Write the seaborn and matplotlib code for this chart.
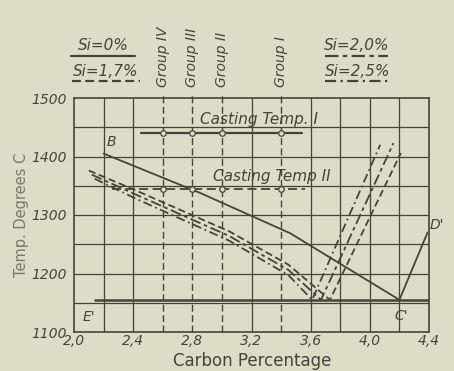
import numpy as np
import pandas as pd
import matplotlib.pyplot as plt
from matplotlib.lines import Line2D
import seaborn as sns

# -------------------------------------------------------------------
# Data (carbon %, temperature in deg C)
# -------------------------------------------------------------------

si0_c = [2.20, 2.85, 3.46, 4.20, 4.39]
si0_t = [1405, 1338, 1269, 1155, 1270]

si17_c = [2.10, 2.40, 3.05, 3.45, 3.73, 4.21]
si17_t = [1376, 1344, 1272, 1215, 1155, 1406]

si20_c = [2.12, 2.40, 3.05, 3.45, 3.67, 4.16]
si20_t = [1369, 1337, 1264, 1206, 1155, 1423]

si25_c = [2.14, 2.40, 3.05, 3.45, 3.61, 4.07]
si25_t = [1362, 1330, 1256, 1197, 1155, 1420]

series_names = ["Si=0%", "Si=1,7%", "Si=2,0%", "Si=2,5%"]

eutectic_t = 1155
eutectic_c = [2.14, 4.40]

casting1_t = 1440
casting1_c = [2.45, 3.54]
casting2_t = 1345
casting2_c = [2.26, 3.56]

group_c = [2.6, 2.8, 3.0, 3.4]
group_labels = ["Group IV", "Group III", "Group II", "Group I"]

x_ticks = [2.0, 2.4, 2.8, 3.2, 3.6, 4.0, 4.4]
x_tick_labels = ["2,0", "2,4", "2,8", "3,2", "3,6", "4,0", "4,4"]
y_ticks = [1100, 1200, 1300, 1400, 1500]

paper = "#dedbc7"
ink = "#45443b"

# -------------------------------------------------------------------
# Build long table
# -------------------------------------------------------------------

frames = []
for name, cs, ts in zip(series_names,
                        [si0_c, si17_c, si20_c, si25_c],
                        [si0_t, si17_t, si20_t, si25_t]):
    frames.append(pd.DataFrame({"C": cs, "T": ts, "Si": name}))
df = pd.concat(frames, ignore_index=True)

sns.set_style("white", {"axes.facecolor": paper, "figure.facecolor": paper})
plt.rcParams["font.family"] = ["DejaVu Sans"]

fig = plt.figure(figsize=(4.54, 3.71), dpi=100)
ax = fig.add_axes([74 / 454, 1 - 332 / 371, 355 / 454, 234 / 371])

# grid (group lines get dashed instead)
for c in np.arange(2.2, 4.4, 0.2):
    if any(abs(c - g) < 1e-6 for g in group_c):
        continue
    ax.axvline(c, color=ink, lw=0.9, zorder=1)
for t in range(1150, 1500, 50):
    ax.axhline(t, color=ink, lw=0.9, zorder=1)
for g in group_c:
    ax.plot([g, g], [1100, 1508], color=ink, lw=1.0, ls=(0, (5, 2.5)),
            clip_on=False, zorder=1)

dashes = {"Si=0%": "", "Si=1,7%": (4, 2), "Si=2,0%": (6, 2, 2, 2),
          "Si=2,5%": (5, 2, 1, 2)}
sns.lineplot(data=df, x="C", y="T", style="Si", dashes=dashes,
             estimator=None, sort=False, color=ink, lw=1.3,
             legend=False, ax=ax, zorder=3)

# eutectic line
ax.plot(eutectic_c, [eutectic_t, eutectic_t], color=ink, lw=1.8, zorder=3)

# casting temperature lines with group points
ax.plot(casting1_c, [casting1_t] * 2, color=ink, lw=1.6, zorder=3)
ax.plot(casting2_c, [casting2_t] * 2, color=ink, lw=1.3,
        ls=(0, (5, 2.5)), zorder=3)
for t in [casting1_t, casting2_t]:
    ax.scatter(group_c, [t] * len(group_c), s=16, facecolor=paper,
               edgecolor=ink, lw=0.9, zorder=4)

ax.set_xlim(2.0, 4.4)
ax.set_ylim(1100, 1500)
ax.set_xticks(x_ticks)
ax.set_xticklabels(x_tick_labels, style="italic", fontsize=10, color=ink)
ax.set_yticks(y_ticks)
ax.set_yticklabels([str(t) for t in y_ticks], style="italic", fontsize=10,
                   color=ink)
ax.tick_params(axis="y", length=0, pad=5)
ax.tick_params(axis="x", length=0, pad=1.5)
for s in ax.spines.values():
    s.set_color(ink)
    s.set_linewidth(1.2)

ax.set_xlabel("")
ax.set_ylabel("Temp. Degrees C", fontsize=10.5, color="#77776c", labelpad=2)
fig.text(252 / 454, 1 - 361 / 371, "Carbon Percentage", ha="center",
         va="center", fontsize=12, color=ink)

# point labels
kw = dict(style="italic", fontsize=10, color=ink)
ax.text(2.22, 1412, "B", ha="left", va="bottom", **kw)
ax.text(2.10, 1125, "E'", ha="center", va="center", **kw)
ax.text(4.21, 1128, "C'", ha="center", va="center", **kw)
ax.text(4.45, 1283, "D'", ha="center", va="center", clip_on=False, **kw)
ax.text(3.25, 1450, "Casting Temp. I", ha="center", va="bottom",
        style="italic", fontsize=11, color=ink)
ax.text(3.34, 1353, "Casting Temp II", ha="center", va="bottom",
        style="italic", fontsize=11, color=ink)

# group labels above the frame
for g, lab in zip(group_c, group_labels):
    ax.text(g, 1518, lab, rotation=90, ha="center", va="bottom",
            style="italic", fontsize=10, color=ink, clip_on=False)

# legend drawn like the original: text over a sample line
def legend_item(x0, x1, y_text, y_line, label, ls):
    fig.text((x0 + x1) / 2 / 454, 1 - y_text / 371, label, ha="center",
             va="center", style="italic", fontsize=11, color=ink)
    fig.add_artist(Line2D([x0 / 454, x1 / 454], [1 - y_line / 371] * 2,
                          color=ink, lw=1.6, ls=ls))

legend_item(71, 135, 45, 56, "Si=0%", "-")
legend_item(72, 140, 71, 81, "Si=1,7%", (0, (4, 2)))
legend_item(325, 388, 45, 56, "Si=2,0%", (0, (6, 2, 2, 2)))
legend_item(325, 390, 71, 81, "Si=2,5%", (0, (5, 2, 1, 2)))

fig.savefig("out.png", dpi=100, facecolor=paper)
plt.close(fig)
